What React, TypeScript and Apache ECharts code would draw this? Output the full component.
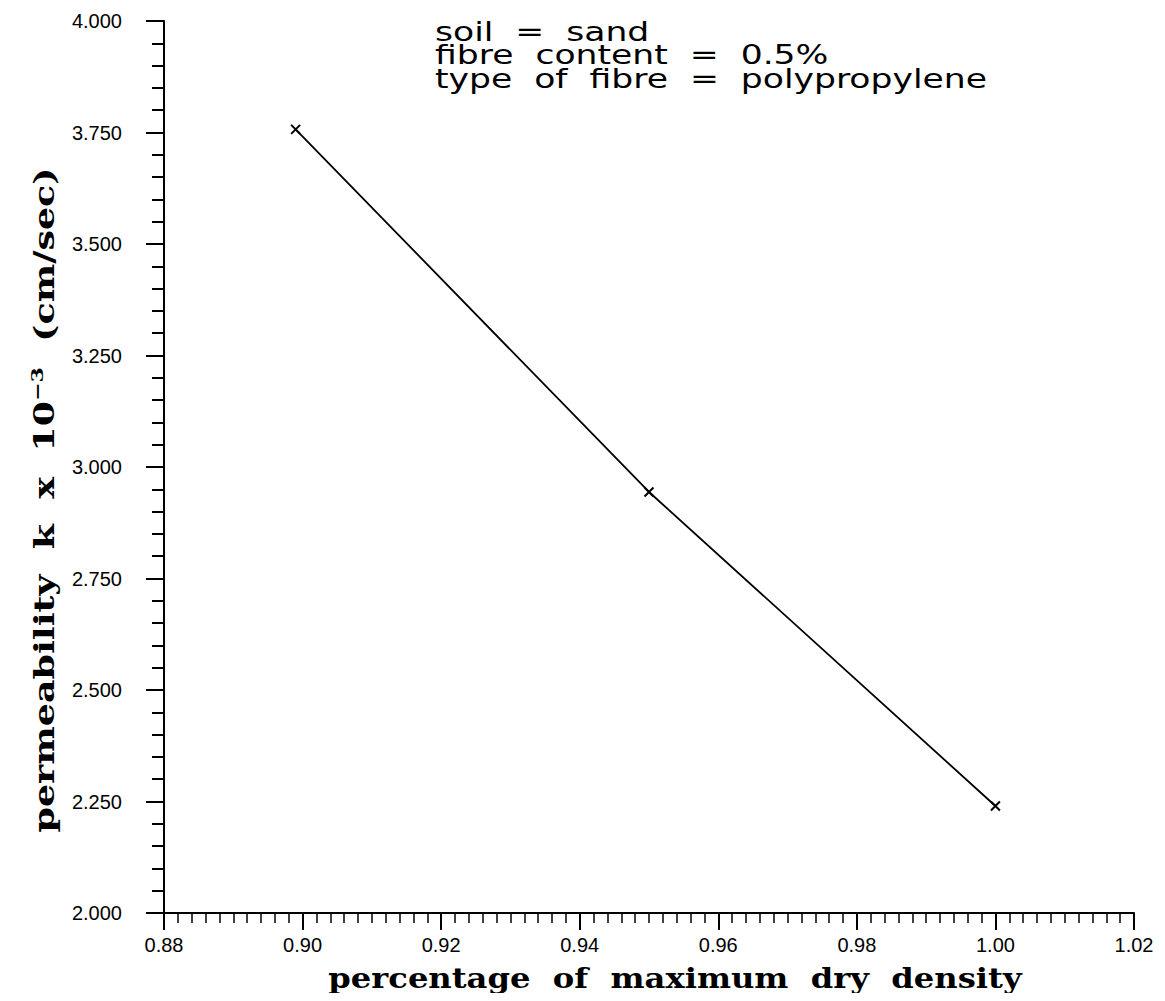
import React, { useEffect, useRef } from "react";
import * as echarts from "echarts";

const densityRatio = [0.899, 0.95, 1.0];
const permeability = [3.757, 2.944, 2.24];
const annotationLines = [
  "soil  =  sand",
  "fibre  content  =  0.5%",
  "type  of  fibre  =  polypropylene",
];
const xAxisTitle = "percentage  of  maximum  dry  density";
const yAxisTitle = "permeability  k  x  10{sup|−3}  (cm/sec)";

export default function App() {
  const ref = useRef<HTMLDivElement>(null);
  useEffect(() => {
    if (!ref.current) return;
    const chart = echarts.init(ref.current, null, { renderer: "svg" });
    const tickFont = { fontFamily: "Liberation Sans", fontSize: 20, color: "#000" };
    const titleStyle = {
      fontFamily: "DejaVu Serif",
      fontWeight: "bold",
      fontSize: 28,
      fill: "#000",
      align: "center",
      verticalAlign: "middle",
    };
    chart.setOption({
      animation: false,
      backgroundColor: "#fff",
      grid: { left: 156, right: 23, top: 13, bottom: 80 },
      xAxis: {
        type: "value",
        min: 0.88,
        max: 1.02,
        interval: 0.02,
        axisLine: { lineStyle: { color: "#000", width: 2 } },
        axisTick: { show: true, inside: false, length: 17, lineStyle: { color: "#000", width: 2 } },
        minorTick: { show: true, splitNumber: 10, length: 10, lineStyle: { color: "#000", width: 1.5 } },
        splitLine: { show: false },
        axisLabel: { ...tickFont, margin: 22, formatter: (v: number) => v.toFixed(2) },
      },
      yAxis: {
        type: "value",
        min: 2,
        max: 4,
        interval: 0.25,
        axisLine: { lineStyle: { color: "#000", width: 2 } },
        axisTick: { show: true, inside: false, length: 18, lineStyle: { color: "#000", width: 2 } },
        minorTick: { show: true, splitNumber: 5, length: 12, lineStyle: { color: "#000", width: 2 } },
        splitLine: { show: false },
        axisLabel: { ...tickFont, margin: 42, formatter: (v: number) => v.toFixed(3) },
      },
      graphic: [
        ...annotationLines.map((t, i) => ({
          type: "text",
          x: 427,
          y: 24 + i * 23.5,
          scaleX: 1.33,
          style: {
            text: t,
            fontFamily: "DejaVu Sans",
            fontSize: 26,
            fill: "#000",
            verticalAlign: "middle",
          },
        })),
        {
          type: "text",
          x: 667,
          y: 970,
          scaleX: 1.15,
          style: { ...titleStyle, text: xAxisTitle },
        },
        {
          type: "text",
          x: 37,
          y: 492,
          rotation: Math.PI / 2,
          scaleX: 1.3,
          style: {
            ...titleStyle,
            text: yAxisTitle,
            rich: {
              sup: {
                fontFamily: "DejaVu Serif",
                fontWeight: "bold",
                fontSize: 17,
                fill: "#000",
                padding: [0, 0, 16, 0],
              },
            },
          },
        },
      ],
      series: [
        {
          type: "line",
          data: densityRatio.map((x, i) => [x, permeability[i]]),
          lineStyle: { color: "#000", width: 1.8 },
          symbol: "path://M0,0L10,10M10,0L0,10",
          symbolSize: 9,
          itemStyle: { color: "#000", borderColor: "#000", borderWidth: 2 },
        },
      ],
    });
    return () => chart.dispose();
  }, []);
  return <div ref={ref} style={{ width: 1149, height: 985 }} />;
}
